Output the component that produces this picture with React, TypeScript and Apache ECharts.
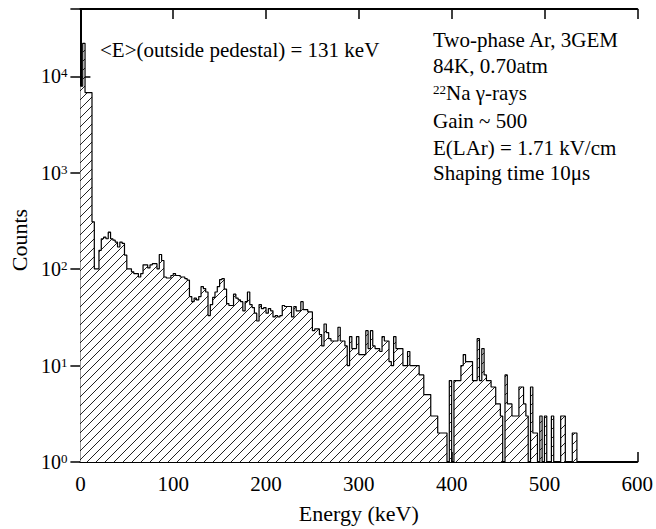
import React, { useEffect, useRef } from "react";
import * as echarts from "echarts";

// Histogram: bin width and counts per bin (starting at 0 keV)
const binWidth = 2.5; // keV
const counts: number[] = [
  7900, 22000, 6800, 6800, 6800, 310, 101, 101, 157, 207,
  215, 207, 242, 207, 200, 191, 170, 191, 185, 140,
  101, 101, 94, 90, 90, 83, 90, 111, 111, 103,
  111, 114, 114, 101, 142, 123, 83, 81, 81, 86,
  90, 86, 86, 83, 83, 80, 77, 52, 46, 50,
  48, 52, 66, 63, 58, 33, 43, 51, 58, 66,
  78, 80, 62, 44, 42, 42, 55, 50, 48, 46,
  37, 46, 58, 43, 40, 35, 29, 43, 39, 40,
  35, 39, 37, 32, 33, 32, 33, 42, 41, 41,
  41, 32, 41, 37, 37, 46, 38, 38, 36, 36,
  23, 24, 24, 21, 16, 27, 22, 19, 18, 18,
  18, 25, 18, 18, 16, 10, 20, 15, 15, 20,
  13, 13, 13, 23, 15, 23, 16, 15, 15, 14,
  20, 18, 18, 11, 10, 20, 15, 15, 15, 10,
  10, 14, 10, 10, 10, 10, 8, 8, 5, 5,
  5, 3, 3, 3, 2, 2, 2, 2, 1, 7,
  1, 7, 7, 7, 10, 13, 11, 11, 11, 7,
  7, 19, 7, 15, 8, 7, 7, 6, 6, 4,
  4, 3, 1, 8, 4, 4, 3, 3, 3, 6,
  6, 4, 3, 1, 6, 2, 2, 1, 3, 1,
  3, 1, 1, 3, 1, 1, 1, 3, 3, 1,
  1, 1, 2, 2,
];

const xMin = 0;
const xMax = 600;
const xInterval = 100;
const yMin = 1;
const yMax = 50000;

const meanText = "<E>(outside pedestal) = 131 keV";
const infoLines: string[] = [
  "Two-phase Ar, 3GEM",
  "84K, 0.70atm",
  "{sup|22}{n|Na \u03b3-rays}",
  "Gain ~ 500",
  "E(LAr) = 1.71 kV/cm",
  "Shaping time 10\u03bcs",
];
const infoCenters = [39.8, 65.8, 93, 121, 147.5, 173];

const FONT = "'Liberation Serif', 'Times New Roman', serif";

function makeHatch(): HTMLCanvasElement {
  const s = 9;
  const c = document.createElement("canvas");
  c.width = s;
  c.height = s;
  const ctx = c.getContext("2d")!;
  ctx.fillStyle = "#ffffff";
  ctx.fillRect(0, 0, s, s);
  ctx.strokeStyle = "#222";
  ctx.lineWidth = 1;
  ctx.beginPath();
  ctx.moveTo(-1, s + 1);
  ctx.lineTo(s + 1, -1);
  ctx.moveTo(-1, 1);
  ctx.lineTo(1, -1);
  ctx.moveTo(s - 1, s + 1);
  ctx.lineTo(s + 1, s - 1);
  ctx.stroke();
  return c;
}

export default function App() {
  const ref = useRef<HTMLDivElement>(null);

  useEffect(() => {
    if (!ref.current) return;
    const chart = echarts.init(ref.current, undefined, { renderer: "svg" });

    const data: [number, number][] = counts.map((v, i) => [i * binWidth, v]);
    data.push([counts.length * binWidth, 1]);

    const hatch = makeHatch();

    const axisLine = { show: true, lineStyle: { color: "#000", width: 2 } };
    const axisTick = { show: true, inside: true, length: 10, lineStyle: { color: "#000", width: 1.5 } };

    const yFormatter = (v: number) => {
      const l = Math.log10(v);
      const e = Math.round(l);
      if (Math.abs(l - e) > 1e-6) return "";
      return `{b|10}{s|${e}}`;
    };

    const option: any = {
      animation: false,
      backgroundColor: "#ffffff",
      grid: { left: 72, right: 18, top: 9, bottom: 65 },
      xAxis: [
        {
          type: "value",
          min: xMin,
          max: xMax,
          interval: xInterval,
          position: "bottom",
          name: "Energy (keV)",
          nameLocation: "middle",
          nameGap: 40,
          nameTextStyle: { fontFamily: FONT, fontSize: 22, color: "#000" },
          axisLine,
          axisTick,
          axisLabel: { fontFamily: FONT, fontSize: 21, color: "#000", margin: 11 },
          splitLine: { show: false },
        },
        {
          type: "value",
          min: xMin,
          max: xMax,
          interval: xInterval,
          position: "top",
          axisLine,
          axisTick,
          axisLabel: { show: false },
          splitLine: { show: false },
        },
      ],
      yAxis: [
        {
          type: "log",
          logBase: 10,
          min: yMin,
          max: yMax,
          position: "left",
          name: "Counts",
          nameLocation: "middle",
          nameGap: 43,
          nameTextStyle: { fontFamily: FONT, fontSize: 22, color: "#000", padding: [0, 9, 0, 0] },
          axisLine,
          axisTick,
          axisLabel: {
            margin: 13,
            showMaxLabel: false,
            formatter: yFormatter,
            rich: {
              b: { fontFamily: FONT, fontSize: 20, lineHeight: 20, color: "#000", padding: [3, 0, 0, 0], verticalAlign: "bottom" },
              s: { fontFamily: FONT, fontSize: 13, lineHeight: 13, color: "#000", verticalAlign: "top" },
            },
          },
          minorTick: { show: false },
          splitLine: { show: false },
        },
        {
          type: "log",
          logBase: 10,
          min: yMin,
          max: yMax,
          position: "right",
          axisLine,
          axisTick,
          axisLabel: { show: false },
          splitLine: { show: false },
        },
      ],
      series: [
        {
          type: "line",
          xAxisIndex: 0,
          yAxisIndex: 0,
          step: "end",
          data,
          symbol: "none",
          silent: true,
          lineStyle: { color: "#000", width: 1.2 },
          areaStyle: {
            origin: "start",
            opacity: 1,
            color: { image: hatch, repeat: "repeat", imageWidth: 9, imageHeight: 9 },
          },
        },
      ],
      graphic: [
        {
          type: "text",
          x: 100,
          y: 50,
          style: {
            text: meanText,
            fontFamily: FONT,
            fontSize: 21,
            fill: "#000",
            align: "left",
            verticalAlign: "middle",
          },
        },
        ...infoLines.map((t, k) => ({
          type: "text",
          x: 433,
          y: infoCenters[k],
          style: {
            text: t,
            fontFamily: FONT,
            fontSize: 21,
            fill: "#000",
            align: "left",
            verticalAlign: "middle",
            rich: {
              sup: { fontFamily: FONT, fontSize: 13, lineHeight: 13, fill: "#000", verticalAlign: "top" },
              n: { fontFamily: FONT, fontSize: 21, lineHeight: 21, fill: "#000", padding: [4, 0, 0, 0], verticalAlign: "bottom" },
            },
          },
        })),
      ],
    };

    chart.setOption(option);
    return () => chart.dispose();
  }, []);

  return (
    <div
      ref={ref}
      style={{ position: "absolute", left: 0, top: 0, width: 656, height: 529, background: "#fff" }}
    />
  );
}
